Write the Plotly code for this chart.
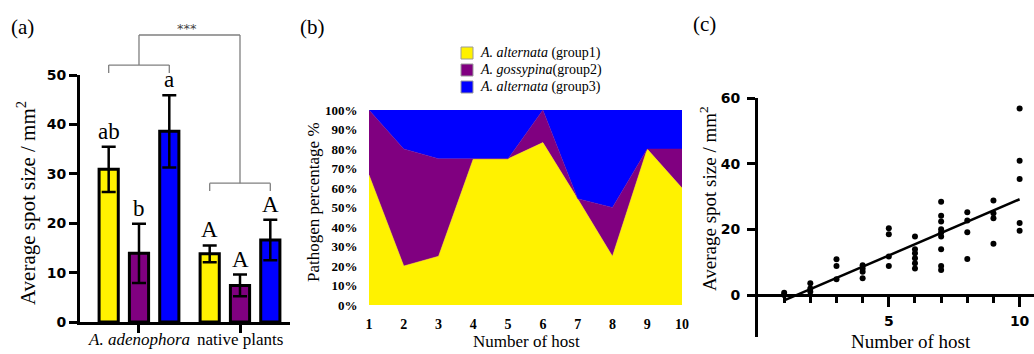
import numpy as np
import plotly.graph_objects as go

W, H = 1034, 354
SERIF = "Liberation Serif"
SANS_B = "DejaVu Sans"

# ---------------- Panel (a) data ----------------
groups_a = ["<i>A. adenophora</i>", "native plants"]
g1_mean = [30.9, 13.8]
g1_err = [4.6, 1.7]
g2_mean = [13.9, 7.4]
g2_err = [6.0, 2.2]
g3_mean = [38.6, 16.6]
g3_err = [7.3, 4.1]
letters_g1 = ["ab", "A"]
letters_g2 = ["b", "A"]
letters_g3 = ["a", "A"]
sig_label = "***"
yticks_a = [0, 10, 20, 30, 40, 50]

# ---------------- Panel (b) data ----------------
hosts_b = [1, 2, 3, 4, 5, 6, 7, 8, 9, 10]
pct_group1 = [66.7, 20, 25, 75, 75, 83.3, 54.5, 25, 80, 60]
pct_group2 = [33.3, 60, 50, 0, 0, 16.7, 0, 25, 0, 20]
pct_group3 = [0, 20, 25, 25, 25, 0, 45.5, 50, 20, 20]
names_b = ["<i>A. alternata</i> (group1)", "<i>A. gossypina</i>(group2)", "<i>A. alternata</i> (group3)"]
yticks_b = list(range(0, 101, 10))

# ---------------- Panel (c) data ----------------
host_c = ([1] * 2 + [2] * 3 + [3] * 3 + [4] * 4 + [5] * 4 + [6] * 6 + [7] * 9
          + [8] * 4 + [9] * 4 + [10] * 5)
spot_c = [0.7, 0.0,
          3.6, 2.0, 1.0,
          10.9, 8.8, 4.8,
          9.1, 8.1, 7.1, 5.1,
          20.3, 18.5, 11.7, 8.8,
          17.8, 13.9, 12.7, 11.2, 9.7, 8.1,
          28.4, 24.1, 22.4, 20.0, 19.0, 17.8, 13.9, 8.8, 7.6,
          25.2, 22.7, 19.1, 11.0,
          28.8, 24.9, 23.4, 15.6,
          56.8, 40.9, 35.3, 21.9, 19.6]

COL = ["#FFF200", "#800080", "#0000FF"]


def px(x):
    return x / W


def py(y):
    return 1 - y / H


# ---- panel (a) geometry
A_DOMX = [px(80), px(290)]
A_DOMY = [py(322), py(75)]
A_RX = [0.416, 2.495]
A_RY = [0, 50]
OFF = 0.30
BW = 0.19


def ax_a(xd):
    return A_DOMX[0] + (xd - A_RX[0]) / (A_RX[1] - A_RX[0]) * (A_DOMX[1] - A_DOMX[0])


def ay_a(yd):
    return A_DOMY[0] + (yd - A_RY[0]) / (A_RY[1] - A_RY[0]) * (A_DOMY[1] - A_DOMY[0])


fig = go.Figure()

centers = [1, 2]
series_a = [(g1_mean, g1_err, letters_g1, -OFF), (g2_mean, g2_err, letters_g2, 0.0),
            (g3_mean, g3_err, letters_g3, OFF)]
annotations = []
for i, (m, e, lets, off) in enumerate(series_a):
    xs = [c + off for c in centers]
    fig.add_trace(go.Bar(
        x=xs, y=m, width=BW, xaxis="x", yaxis="y",
        marker=dict(color=COL[i], line=dict(color="black", width=3)),
        error_y=dict(type="data", array=e, visible=True, color="black", thickness=2.5, width=7),
        showlegend=False))
    for xv, mv, ev, lt in zip(xs, m, e, lets):
        annotations.append(dict(x=ax_a(xv), y=ay_a(mv + ev), xref="paper", yref="paper",
                                text=lt, showarrow=False, xanchor="center", yanchor="bottom",
                                yshift=1, font=dict(family=SERIF, size=23, color="black")))

# group labels under panel (a) x axis
for c, g in zip(centers, groups_a):
    annotations.append(dict(x=ax_a(c), y=py(339), xref="paper", yref="paper", text=g,
                            showarrow=False, xanchor="center", yanchor="middle",
                            font=dict(family=SERIF, size=17, color="black")))

# significance brackets (gray), derived from bar positions
gray = "#7f7f7f"
y_br1, y_br2, y_top = 52.0, 28.1, 58.1
tick_d = 1.6
shapes = []


def seg(x0, y0, x1, y1):
    shapes.append(dict(type="line", xref="paper", yref="paper", x0=x0, y0=y0, x1=x1, y1=y1,
                       line=dict(color=gray, width=1.3)))


gL1, gR1 = ax_a(1 - OFF), ax_a(1 + OFF)
gL2, gR2 = ax_a(2 - OFF), ax_a(2 + OFF)
c1, c2 = ax_a(1), ax_a(2)
seg(gL1, ay_a(y_br1), gR1, ay_a(y_br1))
seg(gL1, ay_a(y_br1), gL1, ay_a(y_br1 - tick_d))
seg(gR1, ay_a(y_br1), gR1, ay_a(y_br1 - tick_d))
seg(gL2, ay_a(y_br2), gR2, ay_a(y_br2))
seg(gL2, ay_a(y_br2), gL2, ay_a(y_br2 - tick_d))
seg(gR2, ay_a(y_br2), gR2, ay_a(y_br2 - tick_d))
seg(c1, ay_a(y_top), c2, ay_a(y_top))
seg(c1, ay_a(y_top), c1, ay_a(y_br1))
seg(c2, ay_a(y_top), c2, ay_a(y_br2))
annotations.append(dict(x=(c1 + c2) / 2 - px(2), y=ay_a(y_top), xref="paper", yref="paper", text=sig_label,
                        showarrow=False, xanchor="center", yanchor="bottom", yshift=-3,
                        font=dict(family=SANS_B, size=13, color="#444444")))

# ---------------- Panel (b) ----------------
for i, vals in enumerate([pct_group1, pct_group2, pct_group3]):
    fig.add_trace(go.Scatter(
        x=hosts_b, y=vals, xaxis="x2", yaxis="y2", mode="lines", stackgroup="one",
        fillcolor=COL[i], line=dict(color=COL[i], width=0.5), name=names_b[i],
        showlegend=False, hoverinfo="skip"))

# manual legend
leg_rows = [53, 70, 87]
for i, r in enumerate(leg_rows):
    shapes.append(dict(type="rect", xref="paper", yref="paper",
                       x0=px(461), x1=px(473), y0=py(r + 6), y1=py(r - 6),
                       fillcolor=COL[i], line=dict(color="#9a9a9a", width=1)))
    annotations.append(dict(x=px(478), y=py(r), xref="paper", yref="paper", text=names_b[i],
                            showarrow=False, xanchor="left", yanchor="middle",
                            font=dict(family=SERIF, size=14, color="black")))

# ---------------- Panel (c) ----------------
fig.add_trace(go.Scatter(x=host_c, y=spot_c, xaxis="x3", yaxis="y3", mode="markers",
                         marker=dict(color="black", size=6), showlegend=False, cliponaxis=False))
slope, intercept = np.polyfit(host_c, spot_c, 1)
fx = np.array([min(host_c), max(host_c)], dtype=float)
fig.add_trace(go.Scatter(x=fx, y=slope * fx + intercept, xaxis="x3", yaxis="y3", mode="lines",
                         line=dict(color="black", width=2.5), showlegend=False, cliponaxis=False))


# ---------------- text annotations ----------------
def txt(x, y, t, size, angle=0, **kw):
    d = dict(x=px(x), y=py(y), xref="paper", yref="paper", text=t, showarrow=False,
             xanchor="center", yanchor="middle", textangle=angle,
             font=dict(family=SERIF, size=size, color="black"))
    d.update(kw)
    annotations.append(d)


txt(22, 27, "(a)", 21)
txt(312, 27, "(b)", 21)
txt(704, 24, "(c)", 21)
txt(26, 203, "Average spot size / mm<sup>2</sup>", 21, -90)
txt(313, 202, "Pathogen percentage %", 17, -90)
txt(708, 199, "Average spot size / mm<sup>2</sup>", 19, -90)
txt(526, 341, "Number of host", 17)
txt(911, 341, "Number of host", 19)

axis_common = dict(showgrid=False, zeroline=False, automargin=False)

fig.update_layout(
    width=W, height=H, margin=dict(l=0, r=0, t=0, b=0, pad=0, autoexpand=False),
    paper_bgcolor="white", plot_bgcolor="white", barmode="overlay",
    showlegend=False,
    xaxis=dict(domain=A_DOMX, range=A_RX, anchor="y", showline=True, linecolor="black", linewidth=3,
               tickmode="array", tickvals=centers, showticklabels=False, ticks="outside", ticklen=8,
               tickwidth=2.5, tickcolor="black", **axis_common),
    yaxis=dict(domain=A_DOMY, range=A_RY, anchor="x", showline=True, linecolor="black", linewidth=3,
               tickmode="array", tickvals=yticks_a, ticks="outside", ticklen=8, tickwidth=2.5,
               tickcolor="black", tickfont=dict(family=SANS_B, size=14, color="black", weight="bold"),
               **axis_common),
    xaxis2=dict(domain=[px(369), px(682)], range=[1, 10], anchor="y2", showline=False,
                tickmode="array", tickvals=hosts_b, ticks="outside", ticklen=6, tickcolor="rgba(0,0,0,0)",
                tickfont=dict(family=SERIF, size=14, color="black", weight="bold"), **axis_common),
    yaxis2=dict(domain=[py(305), py(110)], range=[0, 100], anchor="x2", showline=False,
                tickmode="array", tickvals=yticks_b, ticktext=[f"{v}%" for v in yticks_b],
                ticks="outside", ticklen=8, tickcolor="rgba(0,0,0,0)",
                tickfont=dict(family=SERIF, size=13, color="black", weight="bold"), **axis_common),
    xaxis3=dict(domain=[px(758), 1.0], range=[0, 10.55], anchor="free", position=py(295),
                showline=True, linecolor="black", linewidth=3,
                tickmode="array", tickvals=[5, 10], ticks="outside", ticklen=10, tickwidth=3,
                tickcolor="black", ticklabelstandoff=2,
                minor=dict(tickmode="array", tickvals=[1, 2, 3, 4, 6, 7, 8, 9], ticks="outside",
                           ticklen=6, tickwidth=2.5, tickcolor="black"),
                tickfont=dict(family=SANS_B, size=14, color="black", weight="bold"), **axis_common),
    yaxis3=dict(domain=[py(337), py(98)], range=[-12.79, 60], anchor="x3", showline=True,
                linecolor="black", linewidth=3, tickmode="array", tickvals=[0, 20, 40, 60],
                ticks="outside", ticklen=8, tickwidth=3, tickcolor="black", ticklabelstandoff=4,
                tickfont=dict(family=SANS_B, size=14, color="black", weight="bold"), **axis_common),
    shapes=shapes, annotations=annotations,
)

fig.write_html("out.html", config={"displayModeBar": False},
               post_script="document.body.style.margin='0px';")
